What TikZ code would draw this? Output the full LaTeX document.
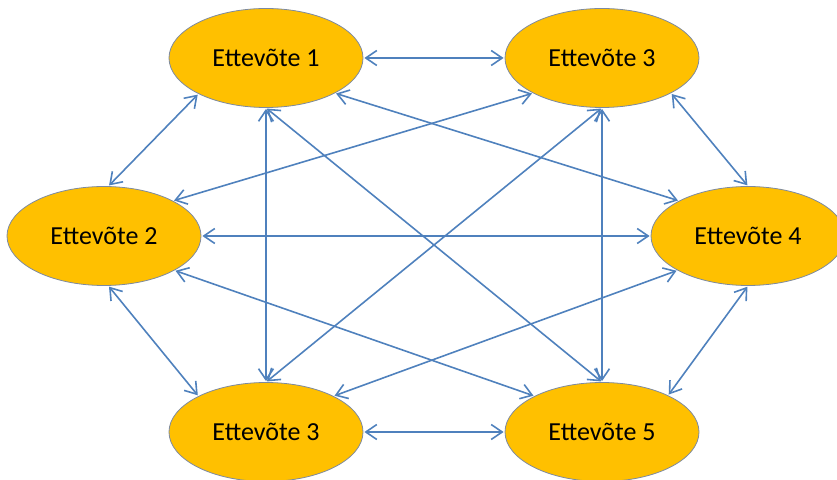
\documentclass[tikz,border=0pt]{standalone}
\usepackage{fontspec}
\setmainfont{Carlito}
\usetikzlibrary{shapes.geometric}
\usetikzlibrary{arrows.meta}

\definecolor{firmfill}{RGB}{255,192,0}
\definecolor{firmline}{RGB}{125,138,160}
\definecolor{linkblue}{RGB}{79,129,189}

\tikzset{
 firm/.style={ellipse,fill=firmfill,draw=firmline,line width=0.8pt,
   minimum width=194pt,minimum height=99pt,inner sep=0pt,
   font=\fontsize{26}{30}\selectfont},
 link/.style={draw=linkblue,line width=1.6pt,
   {Straight Barb[length=11pt,width=15pt]}-{Straight Barb[length=11pt,width=15pt]},
   shorten <=1pt,shorten >=1pt}
}

\begin{document}
\begin{tikzpicture}[x=1pt,y=1pt]
 \useasboundingbox (0,0) rectangle (837,479);
 \node[firm] (e1) at (266,421) {Ettevõte 1};
 \node[firm] (e3) at (602,421) {Ettevõte 3};
 \node[firm] (e2) at (104,243) {Ettevõte 2};
 \node[firm] (e4) at (748,243) {Ettevõte 4};
 \node[firm] (e3b) at (266,47) {Ettevõte 3};
 \node[firm] (e5) at (602,47) {Ettevõte 5};
 \draw[link] (e1.east) -- (e3.west);
 \draw[link] (e1.208) -- (e2.85);
 \draw[link] (e1.south) -- (e3b.north);
 \draw[link] (e1.south) -- (e5.north);
 \draw[link] (e1.333) -- (e4.153);
 \draw[link] (e3.207) -- (e2.27);
 \draw[link] (e3.333) -- (e4.north);
 \draw[link] (e3.south) -- (e3b.north);
 \draw[link] (e3.south) -- (e5.north);
 \draw[link] (e2.east) -- (e4.west);
 \draw[link] (e2.275) -- (e3b.152);
 \draw[link] (e2.334) -- (e5.152);
 \draw[link] (e4.206) -- (e3b.28);
 \draw[link] (e4.south) -- (e5.29);
 \draw[link] (e3b.east) -- (e5.west);
\end{tikzpicture}
\end{document}
